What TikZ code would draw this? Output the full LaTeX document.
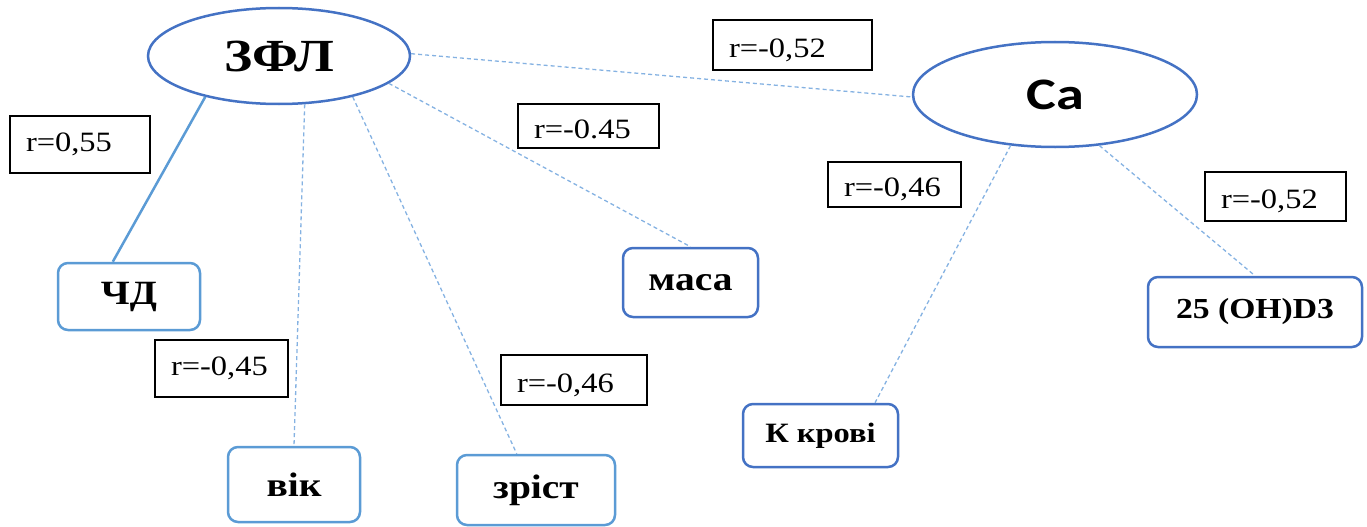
\documentclass[tikz,border=0pt]{standalone}
\usepackage{fontspec}
\setmainfont{Liberation Serif}
\newfontfamily\wideserif[FakeStretch=1.16]{Liberation Serif}
\newfontfamily\casans[FakeStretch=1.25]{Carlito}
\usetikzlibrary{shapes.geometric}
\definecolor{darkblue}{HTML}{4472C4}
\definecolor{lightblue}{HTML}{5B9BD5}
\definecolor{dashblue}{HTML}{85B2E2}

\begin{document}
\begin{tikzpicture}[x=1pt,y=-1pt,
  hub/.style={ellipse, draw=darkblue, line width=2.5pt, fill=white, inner sep=0pt},
  item/.style={rectangle, rounded corners=10pt, line width=2.5pt, fill=white, inner sep=0pt,
    font=\wideserif\bfseries\fontsize{34}{40}\selectfont},
  lab/.style={rectangle, draw=black, line width=1.2pt, fill=white, inner xsep=16pt, inner ysep=0pt,
    align=left, text height=26pt, text depth=2pt, font=\wideserif\fontsize{28}{32}\selectfont},
  raised/.style={text height=19pt, text depth=5pt},
  link/.style={draw=dashblue, line width=1.3pt, dash pattern=on 4pt off 3pt},
  strong/.style={draw=lightblue, line width=2.5pt},
]
\useasboundingbox (0,0) rectangle (1367,527);

% central factors
\node[hub, minimum width=262pt, minimum height=96pt,
      font=\wideserif\bfseries\fontsize{46}{50}\selectfont] (zfl) at (279,56) {ЗФЛ};
\node[hub, minimum width=284pt, minimum height=105pt,
      font=\casans\bfseries\fontsize{45}{50}\selectfont] (ca) at (1055,94.5) {Ca};

% related parameters
\node[item, draw=lightblue, minimum width=142pt, minimum height=67pt] (chd) at (129,296.5) {ЧД};
\node[item, draw=lightblue, minimum width=132pt, minimum height=75pt] (vik) at (294,484.5) {вік};
\node[item, draw=lightblue, minimum width=158pt, minimum height=70pt] (zrist) at (536,490) {зріст};
\node[item, draw=darkblue, minimum width=135pt, minimum height=69pt] (masa) at (690.5,282.5) {маса};
\node[item, draw=darkblue, minimum width=155pt, minimum height=63pt,
      font=\wideserif\bfseries\fontsize{28}{32}\selectfont] (krov) at (820.5,435.5) {К крові};
\node[item, draw=darkblue, minimum width=214pt, minimum height=70pt,
      font=\wideserif\bfseries\fontsize{29}{32}\selectfont] (vitd) at (1255,312) {25 (OH)D3};

% connections
\draw[strong] (zfl.209) -- (chd.115);
\draw[link] (zfl.298) -- (vik.north);
\draw[link] (zfl.331) -- (zrist.118);
\draw[link] (zfl.346) -- (masa.north);
\draw[link] (zfl.1) -- (ca.181);
\draw[link] (ca.229) -- (krov.31);
\draw[link] (ca.311) -- (vitd.north);

% correlation coefficients
\node[lab, text width=127pt, minimum height=50pt] (rtop) at (792.5,45) {r=-0,52};
\node[lab, raised, text width=108pt, minimum height=57pt] (rchd) at (80,144.5) {r=0,55};
\node[lab, text width=109pt, minimum height=44pt] (rmasa) at (588.5,126) {r=-0.45};
\node[lab, text width=101pt, minimum height=45pt] (rkrov) at (894.5,184.5) {r=-0,46};
\node[lab, text width=109pt, minimum height=49pt] (rvitd) at (1275.5,196.5) {r=-0,52};
\node[lab, raised, text width=101pt, minimum height=57pt] (rvik) at (221.5,368.5) {r=-0,45};
\node[lab, text width=114pt, minimum height=50pt] (rzrist) at (574,380) {r=-0,46};
\end{tikzpicture}
\end{document}
